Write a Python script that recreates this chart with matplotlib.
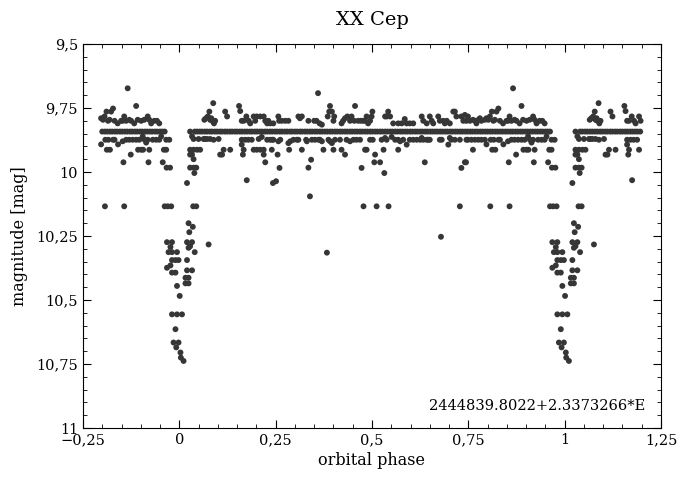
import numpy as np
import matplotlib.pyplot as plt
from matplotlib.ticker import MultipleLocator, FixedLocator, FixedFormatter

plt.rcParams['font.family'] = ['DejaVu Serif']

# dense row of points at the out-of-eclipse level (phase in 0..1)
main_level = 9.842
main_phase = [
    0.040, 0.046, 0.053, 0.059, 0.066, 0.072, 0.079, 0.085, 0.092, 0.098,
    0.105, 0.111, 0.118, 0.124, 0.131, 0.137, 0.144, 0.150, 0.157, 0.163,
    0.170, 0.176, 0.183, 0.189, 0.196, 0.202, 0.209, 0.215, 0.222, 0.228,
    0.235, 0.241, 0.248, 0.254, 0.261, 0.267, 0.274, 0.280, 0.287, 0.293,
    0.300, 0.306, 0.313, 0.319, 0.326, 0.332, 0.339, 0.345, 0.352, 0.358,
    0.365, 0.371, 0.378, 0.384, 0.391, 0.397, 0.404, 0.410, 0.417, 0.423,
    0.430, 0.436, 0.443, 0.449, 0.456, 0.462, 0.469, 0.475, 0.482, 0.488,
    0.495, 0.501, 0.508, 0.514, 0.521, 0.527, 0.534, 0.540, 0.547, 0.553,
    0.560, 0.566, 0.573, 0.579, 0.586, 0.592, 0.599, 0.605, 0.612, 0.618,
    0.625, 0.631, 0.638, 0.644, 0.651, 0.657, 0.664, 0.670, 0.677, 0.683,
    0.690, 0.696, 0.703, 0.709, 0.716, 0.722, 0.729, 0.735, 0.742, 0.748,
    0.755, 0.761, 0.768, 0.774, 0.781, 0.787, 0.794, 0.800, 0.807, 0.813,
    0.820, 0.826, 0.833, 0.839, 0.846, 0.852, 0.859, 0.865, 0.872, 0.878,
    0.885, 0.891, 0.898, 0.904, 0.911, 0.917, 0.924, 0.930, 0.937, 0.943,
    0.950, 0.956, 0.962,
]

# scattered points brighter than the row
bright_phase = [
    0.065, 0.069, 0.074, 0.078, 0.080, 0.083, 0.085, 0.088, 0.090, 0.093,
    0.119, 0.124, 0.155, 0.158, 0.162, 0.167, 0.174, 0.180, 0.184, 0.193,
    0.197, 0.201, 0.210, 0.219, 0.223, 0.228, 0.231, 0.236, 0.244, 0.257,
    0.259, 0.266, 0.275, 0.283, 0.309, 0.313, 0.318, 0.335, 0.350, 0.356,
    0.360, 0.364, 0.370, 0.385, 0.389, 0.391, 0.396, 0.400, 0.402, 0.421,
    0.425, 0.430, 0.436, 0.443, 0.447, 0.454, 0.456, 0.464, 0.471, 0.477,
    0.482, 0.486, 0.490, 0.495, 0.499, 0.501, 0.534, 0.538, 0.542, 0.547,
    0.555, 0.568, 0.577, 0.585, 0.590, 0.598, 0.607, 0.629, 0.633, 0.642,
    0.650, 0.655, 0.659, 0.672, 0.676, 0.685, 0.689, 0.694, 0.702, 0.711,
    0.715, 0.719, 0.732, 0.737, 0.741, 0.745, 0.749, 0.754, 0.762, 0.767,
    0.771, 0.776, 0.780, 0.784, 0.793, 0.797, 0.802, 0.806, 0.811, 0.815,
    0.819, 0.823, 0.828, 0.832, 0.840, 0.849, 0.853, 0.857, 0.862, 0.866,
    0.870, 0.875, 0.883, 0.888, 0.892, 0.901, 0.909, 0.918, 0.922, 0.927,
    0.935, 0.942, 0.948,
]
bright_mag = [
    9.796, 9.790, 9.783, 9.764, 9.796, 9.790, 9.800, 9.731, 9.810, 9.800,
    9.764, 9.783, 9.742, 9.762, 9.800, 9.800, 9.783, 9.800, 9.810, 9.783,
    9.800, 9.783, 9.783, 9.783, 9.800, 9.810, 9.800, 9.810, 9.810, 9.783,
    9.800, 9.800, 9.800, 9.800, 9.783, 9.790, 9.783, 9.800, 9.800, 9.800,
    9.692, 9.810, 9.815, 9.783, 9.764, 9.742, 9.764, 9.800, 9.783, 9.810,
    9.800, 9.790, 9.783, 9.800, 9.783, 9.800, 9.742, 9.800, 9.800, 9.800,
    9.800, 9.783, 9.810, 9.800, 9.783, 9.764, 9.783, 9.783, 9.764, 9.783,
    9.810, 9.810, 9.810, 9.793, 9.810, 9.810, 9.810, 9.783, 9.800, 9.810,
    9.783, 9.800, 9.810, 9.783, 9.800, 9.800, 9.810, 9.800, 9.810, 9.764,
    9.764, 9.783, 9.783, 9.800, 9.777, 9.800, 9.783, 9.800, 9.796, 9.800,
    9.810, 9.796, 9.790, 9.800, 9.796, 9.790, 9.796, 9.783, 9.764, 9.800,
    9.796, 9.764, 9.752, 9.800, 9.810, 9.800, 9.800, 9.783, 9.800, 9.673,
    9.796, 9.800, 9.810, 9.742, 9.796, 9.800, 9.796, 9.783, 9.796, 9.810,
    9.800, 9.800, 9.810,
]

# scattered points fainter than the row, outside the eclipse
faint_phase = [
    0.050, 0.054, 0.063, 0.067, 0.072, 0.080, 0.089, 0.102, 0.106, 0.111,
    0.115, 0.132, 0.162, 0.162, 0.165, 0.167, 0.171, 0.175, 0.179, 0.188,
    0.193, 0.201, 0.206, 0.210, 0.214, 0.219, 0.219, 0.223, 0.228, 0.236,
    0.240, 0.241, 0.243, 0.244, 0.251, 0.255, 0.257, 0.260, 0.262, 0.283,
    0.285, 0.288, 0.296, 0.305, 0.309, 0.318, 0.329, 0.331, 0.335, 0.339,
    0.342, 0.344, 0.352, 0.361, 0.365, 0.370, 0.374, 0.383, 0.387, 0.391,
    0.396, 0.400, 0.404, 0.417, 0.421, 0.430, 0.434, 0.443, 0.452, 0.460,
    0.469, 0.473, 0.478, 0.482, 0.486, 0.495, 0.502, 0.506, 0.508, 0.512,
    0.521, 0.525, 0.530, 0.532, 0.534, 0.538, 0.543, 0.551, 0.560, 0.568,
    0.568, 0.573, 0.581, 0.590, 0.598, 0.607, 0.616, 0.625, 0.629, 0.633,
    0.637, 0.642, 0.646, 0.650, 0.676, 0.679, 0.681, 0.698, 0.702, 0.706,
    0.715, 0.728, 0.728, 0.732, 0.741, 0.744, 0.745, 0.749, 0.758, 0.767,
    0.776, 0.784, 0.793, 0.797, 0.762, 0.807, 0.808, 0.812, 0.816, 0.820,
    0.828, 0.832, 0.841, 0.853, 0.855, 0.857, 0.862, 0.870, 0.874, 0.879,
    0.888, 0.893, 0.896, 0.901, 0.905, 0.906, 0.910, 0.914, 0.918, 0.920,
    0.922, 0.931, 0.940, 0.948, 0.953, 0.957, 0.960,
]
faint_mag = [
    9.871, 9.913, 9.871, 9.871, 9.871, 9.871, 9.874, 9.871, 9.932, 9.932,
    9.913, 9.913, 9.874, 9.893, 9.932, 9.913, 9.874, 10.032, 9.874, 9.874,
    9.913, 9.913, 9.871, 9.913, 9.863, 9.932, 9.913, 9.962, 9.874, 9.874,
    9.913, 9.874, 10.043, 9.874, 10.036, 9.932, 9.880, 9.984, 9.874, 9.887,
    9.913, 9.880, 9.874, 9.874, 9.874, 9.913, 9.874, 9.880, 9.983, 10.095,
    9.952, 9.874, 9.874, 9.874, 9.874, 9.880, 9.913, 10.315, 9.874, 9.880,
    9.887, 9.913, 9.874, 9.874, 9.913, 9.932, 9.874, 9.880, 9.874, 9.874,
    9.874, 9.984, 10.134, 9.913, 9.913, 9.874, 9.874, 9.962, 9.932, 10.134,
    9.962, 9.874, 9.913, 10.004, 9.867, 9.874, 10.134, 9.863, 9.874, 9.874,
    9.913, 9.880, 9.874, 9.893, 9.874, 9.874, 9.874, 9.874, 9.867, 9.874,
    9.962, 9.874, 9.874, 9.874, 9.874, 10.253, 9.874, 9.893, 9.867, 9.874,
    9.874, 10.134, 9.874, 9.984, 9.962, 9.962, 9.874, 9.874, 9.874, 9.874,
    9.874, 9.874, 9.874, 9.892, 9.913, 10.134, 9.874, 9.913, 9.874, 9.913,
    9.874, 9.874, 9.892, 9.880, 9.962, 10.134, 9.874, 9.874, 9.932, 9.874,
    9.874, 9.913, 9.874, 9.913, 9.861, 9.913, 9.874, 9.885, 9.874, 9.962,
    9.913, 9.874, 9.874, 9.874, 9.861, 9.962, 9.913,
]

# points in and around primary eclipse
ecl_phase = [
    0.962, 0.966, 0.966, 0.967, 0.970, 0.974, 0.976, 0.979, 0.968, 0.977,
    0.981, 0.968, 0.977, 0.972, 0.981, 0.994, 0.981, 0.990, 0.998, 0.981,
    0.990, 0.994, 0.981, 0.994, 0.990, 0.985, 0.998, 0.992,
    0.001, 0.007, 0.003, 0.004, 0.011, 0.016, 0.024, 0.016, 0.024, 0.020,
    0.033, 0.020, 0.040, 0.020, 0.033, 0.028, 0.024, 0.024, 0.035, 0.026,
    0.036, 0.044, 0.020, 0.028, 0.033, 0.037, 0.028, 0.037, 0.046, 0.028,
    0.033, 0.037, 0.028, 0.037, 0.044, 0.039, 0.076,
]
ecl_mag = [
    10.134, 9.913, 9.874, 9.983, 10.134, 9.874, 9.983, 10.134, 10.274, 10.293,
    10.274, 10.374, 10.365, 10.313, 10.313, 10.313, 10.344, 10.344, 10.344, 10.393,
    10.393, 10.445, 10.556, 10.556, 10.614, 10.666, 10.666, 10.685,
    10.484, 10.556, 10.705, 10.725, 10.738, 10.413, 10.413, 10.435, 10.435, 10.384,
    10.384, 10.344, 10.313, 10.274, 10.274, 10.290, 10.296, 10.200, 10.214, 10.235,
    10.134, 10.134, 10.043, 9.842, 9.861, 9.871, 9.913, 9.913, 9.913, 9.932,
    9.932, 9.950, 9.983, 9.983, 9.983, 10.004, 10.283,
]

xtick_vals = [-0.25, 0, 0.25, 0.5, 0.75, 1, 1.25]
xtick_labels = ['\u22120,25', '0', '0,25', '0,5', '0,75', '1', '1,25']
ytick_vals = [9.5, 9.75, 10, 10.25, 10.5, 10.75, 11]
ytick_labels = ['9,5', '9,75', '10', '10,25', '10,5', '10,75', '11']

phase = np.concatenate([main_phase, bright_phase, faint_phase, ecl_phase])
mag = np.concatenate([np.full(len(main_phase), main_level), bright_mag, faint_mag, ecl_mag])

# repeat the ends of the cycle on both sides
lo = phase > 0.795
hi = phase < 0.2
x = np.concatenate([phase, phase[lo] - 1, phase[hi] + 1])
y = np.concatenate([mag, mag[lo], mag[hi]])

fig = plt.figure(figsize=(6.79, 4.80), dpi=100)
ax = fig.add_axes([0.1222, 0.1083, 0.8513, 0.8000])

ax.scatter(x, y, s=18, color='#363636', edgecolors='none', zorder=3)

ax.set_xlim(-0.25, 1.25)
ax.set_ylim(11, 9.5)

ax.xaxis.set_major_locator(FixedLocator(xtick_vals))
ax.xaxis.set_major_formatter(FixedFormatter(xtick_labels))
ax.yaxis.set_major_locator(FixedLocator(ytick_vals))
ax.yaxis.set_major_formatter(FixedFormatter(ytick_labels))
ax.xaxis.set_minor_locator(MultipleLocator(0.05))
ax.yaxis.set_minor_locator(MultipleLocator(0.05))
ax.tick_params(which='both', direction='in', top=True, right=True, labelsize=10.5)
ax.tick_params(which='major', length=6, width=0.8)
ax.tick_params(which='minor', length=3, width=0.6)

ax.set_title('XX Cep', fontsize=14, pad=14)
ax.set_xlabel('orbital phase', fontsize=11.5, labelpad=4)
ax.set_ylabel('magnitude [mag]', fontsize=11.5, labelpad=6)

ax.text(0.972, 0.058, '2444839.8022+2.3373266*E', transform=ax.transAxes,
        ha='right', va='center', fontsize=10.5)

fig.savefig('out.png', dpi=100)
